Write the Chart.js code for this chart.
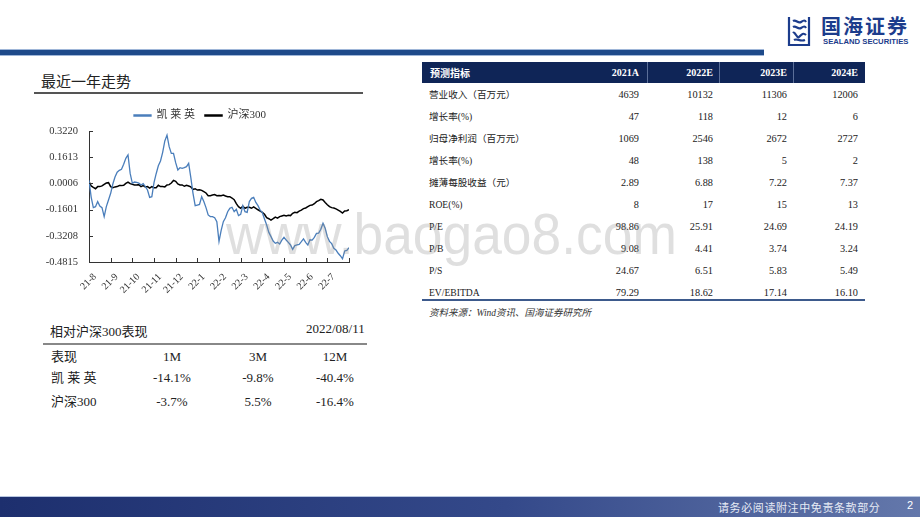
<!DOCTYPE html>
<html>
<head>
<meta charset="utf-8">
<script src="https://cdn.jsdelivr.net/npm/chart.js@4.4.0/dist/chart.umd.min.js"></script>
<style>
    body { margin: 0; width: 920px; height: 518px; position: relative; overflow: hidden; background: #fff;
           font-family: 'Liberation Serif', 'Times New Roman', 'Noto Sans CJK SC', serif; color: #222; }
    .abs { position: absolute; }
    .sans { font-family: 'Noto Sans CJK SC', sans-serif; }
    #topLine { left: 0; top: 49px; width: 764px; height: 7px; background: #1e4a8a;
               border-top: 1px solid #9fb6d8; border-bottom: 1px solid #9fb6d8; box-sizing: border-box; }
    #logoCn { left: 821px; top: 15px; font-size: 20px; line-height: 22px; font-weight: bold; color: #1c3c8c; letter-spacing: 2px; }
    #logoEn { left: 823px; top: 38px; font-family: 'Liberation Sans', Arial, sans-serif; font-size: 7.7px; line-height: 8px; font-weight: bold; color: #1c3c8c; }
    #trendTitle { left: 41px; top: 70px; font-size: 15px; color: #222; }
    #trendLine { left: 34px; top: 92px; width: 329px; height: 1.5px; background: #555; }
    #chartBox { left: 30px; top: 100px; width: 340px; height: 205px; }
    #fcHead { left: 422px; top: 62px; width: 443px; height: 21px; background: #0f2557; }
    .hcell { position: absolute; top: 0; height: 21px; line-height: 21px; color: #fff; font-weight: bold; font-size: 10px; }
    .hsep { position: absolute; top: 0; width: 1px; height: 21px; background: #5b6f99; }
    .cell { position: absolute; font-size: 10.3px; line-height: 14px; color: #222; white-space: nowrap; }
    .lab { font-size: 9.6px; }
    #fcBottom { left: 422px; top: 299px; width: 443px; height: 2px; background: #3d5a8c; }
    #source { left: 429px; top: 305px; font-size: 9.5px; font-style: italic; color: #333; }
    #perfTitle { left: 50px; top: 321px; font-size: 13px; }
    #perfDate { left: 306px; top: 321px; font-size: 13px; }
    #perfLine { left: 43px; top: 343px; width: 324px; height: 2px; background: #888; }
    .pcell { position: absolute; font-size: 13px; line-height: 18px; white-space: nowrap; }
    #watermark { left: 226px; top: 200px; font-family: 'Liberation Sans', Arial, sans-serif; font-size: 58px;
                 color: rgba(140,140,140,0.28); transform: scaleX(0.92); transform-origin: left top; white-space: nowrap; pointer-events: none; }
    #footer { left: 0; top: 496px; width: 920px; height: 20px; border-top: 1px solid #b8c6e0;
              background: linear-gradient(to right, #1d2f6e, #34498a 55%, #6478ab); }
    #footText { left: 718px; top: 499px; font-size: 11px; letter-spacing: 0.6px; color: #e6ebf5; }
    #pageNo { left: 907px; top: 499px; font-size: 11px; color: #fff; font-family: 'Liberation Sans', sans-serif; }
</style>
</head>
<body>

<div id="topLine" class="abs"></div>
<svg class="abs" style="left:786px;top:15px" width="26" height="32" viewBox="0 0 26 32">
    <g fill="none" stroke="#1c3c8c" stroke-width="2.2">
        <path d="M3 2 L3 30 L23 30 L23 2"/>
        <path d="M7 6 C10 4 12 9 15 7 S19 5 20 7"/>
        <path d="M7 12 C10 10 12 15 15 13 S19 11 20 13"/>
        <path d="M7 18 C9 16 11 24 13 22 S17 17 20 20"/>
        <path d="M8 25 C11 23 14 27 19 25"/>
    </g>
</svg>
<div id="logoCn" class="abs sans">国海证券</div>
<div id="logoEn" class="abs">SEALAND SECURITIES</div>

<div id="trendTitle" class="abs sans">最近一年走势</div>
<div id="trendLine" class="abs"></div>
<div id="chartBox" class="abs"><canvas id="trend"></canvas></div>

<div id="fcHead" class="abs"></div>
<div id="fcBody" class="abs" style="left:0;top:0"></div>
<div id="fcBottom" class="abs"></div>
<div id="source" class="abs">资料来源：Wind资讯、国海证券研究所</div>

<div id="perfTitle" class="abs">相对沪深300表现</div>
<div id="perfDate" class="abs">2022/08/11</div>
<div id="perfLine" class="abs"></div>
<div id="perfBody" class="abs" style="left:0;top:0"></div>

<div id="watermark" class="abs">www.baogao8.com</div>

<div id="footer" class="abs"></div>
<div id="footText" class="abs sans">请务必阅读附注中免责条款部分</div>
<div id="pageNo" class="abs">2</div>

<script>
// 最近一年走势: 10 points per month, 21-8 .. 22-7
const monthLabels = ['21-8', '21-9', '21-10', '21-11', '21-12', '22-1', '22-2', '22-3', '22-4', '22-5', '22-6', '22-7'];
const seriesNames = ['凯 莱 英', '沪深300'];
const yTicks = [-0.4815, -0.3208, -0.1601, 0.0006, 0.1613, 0.3220];

const kaiLaiYing = [
    0.019, -0.083, -0.148, -0.142, -0.111, -0.138, -0.148, -0.203, -0.142, -0.101,
    -0.060, -0.003, 0.040, 0.069, 0.081, 0.087, 0.118, 0.154, 0.175, 0.062,
    0.001, 0.009, 0.007, 0.003, -0.009, -0.001, -0.019, -0.040, -0.085, -0.081,
    0.005, 0.060, 0.109, 0.138, 0.191, 0.261, 0.297, 0.226, 0.185, 0.185,
    0.128, 0.083, 0.097, 0.093, 0.097, 0.103, 0.124, 0.036, -0.060, -0.136,
    -0.132, -0.128, -0.081, -0.111, -0.148, -0.193, -0.203, -0.203, -0.210, -0.234,
    -0.355, -0.287, -0.234, -0.210, -0.173, -0.152, -0.146, -0.173, -0.158, -0.197,
    -0.189, -0.136, -0.173, -0.177, -0.111, -0.091, -0.085, -0.116, -0.136, -0.163,
    -0.179, -0.218, -0.255, -0.300, -0.326, -0.353, -0.367, -0.361, -0.371, -0.347,
    -0.330, -0.347, -0.361, -0.377, -0.404, -0.381, -0.377, -0.373, -0.357, -0.340,
    -0.361, -0.377, -0.345, -0.347, -0.330, -0.306, -0.304, -0.281, -0.244, -0.275,
    -0.326, -0.355, -0.369, -0.398, -0.408, -0.428, -0.443, -0.462, -0.414, -0.410,
    -0.394
];

const hs300 = [
    0.011, -0.015, -0.024, -0.032, -0.019, -0.019, -0.015, -0.005, 0.003, 0.005,
    -0.019, -0.026, -0.021, -0.019, -0.013, -0.013, -0.011, 0.001, 0.009, -0.001,
    -0.005, -0.009, -0.009, -0.007, -0.019, -0.013, -0.021, -0.019, -0.028, -0.019,
    -0.026, -0.026, -0.011, -0.019, -0.019, -0.021, -0.009, -0.007, 0.003, 0.019,
    0.013, -0.003, -0.009, -0.009, -0.017, -0.011, -0.015, -0.021, -0.036, -0.032,
    -0.040, -0.038, -0.042, -0.050, -0.058, -0.075, -0.075, -0.071, -0.068, -0.075,
    -0.073, -0.075, -0.071, -0.077, -0.081, -0.081, -0.089, -0.099, -0.124, -0.142,
    -0.152, -0.140, -0.152, -0.146, -0.146, -0.152, -0.144, -0.152, -0.161, -0.169,
    -0.177, -0.189, -0.210, -0.216, -0.224, -0.216, -0.206, -0.212, -0.203, -0.199,
    -0.195, -0.199, -0.195, -0.197, -0.183, -0.177, -0.179, -0.169, -0.163, -0.154,
    -0.150, -0.142, -0.134, -0.132, -0.124, -0.111, -0.105, -0.097, -0.101, -0.116,
    -0.130, -0.142, -0.148, -0.150, -0.156, -0.163, -0.171, -0.181, -0.169, -0.167,
    -0.161
];

// 预测指标 table
const forecastTitle = '预测指标';
const forecastYears = ['2021A', '2022E', '2023E', '2024E'];
const forecastLabels = ['营业收入（百万元）', '增长率(%)', '归母净利润（百万元）', '增长率(%)', '摊薄每股收益（元）',
                        'ROE(%)', 'P/E', 'P/B', 'P/S', 'EV/EBITDA'];
const forecastValues = [
    ['4639', '10132', '11306', '12006'],
    ['47', '118', '12', '6'],
    ['1069', '2546', '2672', '2727'],
    ['48', '138', '5', '2'],
    ['2.89', '6.88', '7.22', '7.37'],
    ['8', '17', '15', '13'],
    ['98.86', '25.91', '24.69', '24.19'],
    ['9.08', '4.41', '3.74', '3.24'],
    ['24.67', '6.51', '5.83', '5.49'],
    ['79.29', '18.62', '17.14', '16.10']
];

// 相对沪深300表现
const perfHeaders = ['表现', '1M', '3M', '12M'];
const perfNames = ['凯 莱 英', '沪深300'];
const perfValues = [
    ['-14.1%', '-9.8%', '-40.4%'],
    ['-3.7%', '5.5%', '-16.4%']
];

// ---- forecast table ----
const fcHead = document.getElementById('fcHead');
const fcBody = document.getElementById('fcBody');
const colRight = [639, 713, 787, 858];
const colSep = [225, 297, 371];

const headTitle = document.createElement('div');
headTitle.className = 'hcell sans';
headTitle.style.left = '8px';
headTitle.textContent = forecastTitle;
fcHead.appendChild(headTitle);
colSep.forEach(x => {
    const s = document.createElement('div');
    s.className = 'hsep';
    s.style.left = x + 'px';
    fcHead.appendChild(s);
});
forecastYears.forEach((y, j) => {
    const c = document.createElement('div');
    c.className = 'hcell';
    c.style.right = (443 - (colRight[j] - 422)) + 'px';
    c.textContent = y;
    fcHead.appendChild(c);
});

const rowCenters = [95, 117, 139, 161, 183, 205, 227, 249, 271, 293];
forecastLabels.forEach((lab, i) => {
    const top = rowCenters[i] - 7;
    const l = document.createElement('div');
    l.className = 'cell lab';
    l.style.left = '429px';
    l.style.top = top + 'px';
    l.textContent = lab;
    fcBody.appendChild(l);
    forecastValues[i].forEach((v, j) => {
        const c = document.createElement('div');
        c.className = 'cell';
        c.style.left = (colRight[j] - 60) + 'px';
        c.style.width = '60px';
        c.style.textAlign = 'right';
        c.style.top = top + 'px';
        c.textContent = v;
        fcBody.appendChild(c);
    });
});

// ---- performance table ----
const perfBody = document.getElementById('perfBody');
const perfCenters = [172, 258, 335];
const perfRowY = [357, 378, 402];

function perfCell(text, x, y, center) {
    const c = document.createElement('div');
    c.className = 'pcell';
    c.style.top = (y - 9) + 'px';
    if (center) {
        c.style.left = (x - 40) + 'px';
        c.style.width = '80px';
        c.style.textAlign = 'center';
    } else {
        c.style.left = x + 'px';
    }
    c.textContent = text;
    perfBody.appendChild(c);
}
perfCell(perfHeaders[0], 51, perfRowY[0], false);
perfHeaders.slice(1).forEach((h, j) => perfCell(h, perfCenters[j], perfRowY[0], true));
perfNames.forEach((n, i) => {
    perfCell(n, 51, perfRowY[i + 1], false);
    perfValues[i].forEach((v, j) => perfCell(v, perfCenters[j], perfRowY[i + 1], true));
});

// ---- trend chart ----
const labelFont = "'Liberation Serif', 'Times New Roman', 'Noto Sans CJK SC', serif";
const perMonth = 10;
const xTicks = monthLabels.map((m, k) => k * perMonth).concat([monthLabels.length * perMonth]);

// small tick marks drawn inside the plot, as in the original
const innerTicks = {
    id: 'innerTicks',
    afterLayout(chart) {
        // centre the legend on the whole canvas, not only the padded part
        chart.legend.left += 10.5;
        chart.legend.right += 10.5;
    },
    afterDraw(chart) {
        const { ctx, scales: { x, y } } = chart;
        ctx.save();
        ctx.strokeStyle = '#333';
        ctx.lineWidth = 1;
        ctx.beginPath();
        y.ticks.forEach(t => {
            const py = Math.round(y.getPixelForValue(t.value)) + 0.5;
            ctx.moveTo(y.right, py);
            ctx.lineTo(y.right + 4, py);
        });
        x.ticks.forEach(t => {
            const px = Math.round(x.getPixelForValue(t.value)) + 0.5;
            ctx.moveTo(px, x.top);
            ctx.lineTo(px, x.top - 4);
        });
        ctx.stroke();
        ctx.restore();
    }
};

new Chart(document.getElementById('trend'), {
    type: 'line',
    data: {
        datasets: [{
            label: seriesNames[0],
            data: kaiLaiYing.map((v, i) => ({ x: i, y: v })),
            borderColor: '#4a7ebb',
            backgroundColor: '#4a7ebb',
            borderWidth: 1.3,
            pointRadius: 0,
            tension: 0
        }, {
            label: seriesNames[1],
            data: hs300.map((v, i) => ({ x: i, y: v })),
            borderColor: '#000',
            backgroundColor: '#000',
            borderWidth: 1.5,
            pointRadius: 0,
            tension: 0
        }]
    },
    options: {
        responsive: true,
        maintainAspectRatio: false,
        animation: false,
        layout: { padding: { top: 0, right: 21, bottom: 0, left: 0 } },
        plugins: {
            legend: {
                position: 'top',
                labels: { boxWidth: 17, boxHeight: 1, padding: 10, color: '#333', font: { family: labelFont, size: 11 } }
            },
            tooltip: { enabled: false }
        },
        scales: {
            x: {
                type: 'linear',
                min: 0,
                max: monthLabels.length * perMonth,
                afterBuildTicks: s => { s.ticks = xTicks.map(v => ({ value: v })); },
                afterFit: s => { s.height = 43; },
                grid: { drawOnChartArea: false, drawTicks: false },
                border: { color: '#333', width: 1 },
                ticks: {
                    autoSkip: false,
                    maxRotation: 45,
                    minRotation: 45,
                    padding: 9,
                    labelOffset: 6,
                    color: '#333',
                    font: { family: labelFont, size: 10 },
                    callback: v => monthLabels[v / perMonth] || ''
                }
            },
            y: {
                min: yTicks[0],
                max: yTicks[yTicks.length - 1],
                afterBuildTicks: s => { s.ticks = yTicks.map(v => ({ value: v })); },
                afterFit: s => { s.width = 59; },
                grid: { drawOnChartArea: false, drawTicks: false },
                border: { color: '#333', width: 1 },
                ticks: {
                    padding: 11,
                    color: '#333',
                    font: { family: labelFont, size: 10.5 },
                    callback: v => v.toFixed(4)
                }
            }
        }
    },
    plugins: [innerTicks]
});
</script>
</body>
</html>
